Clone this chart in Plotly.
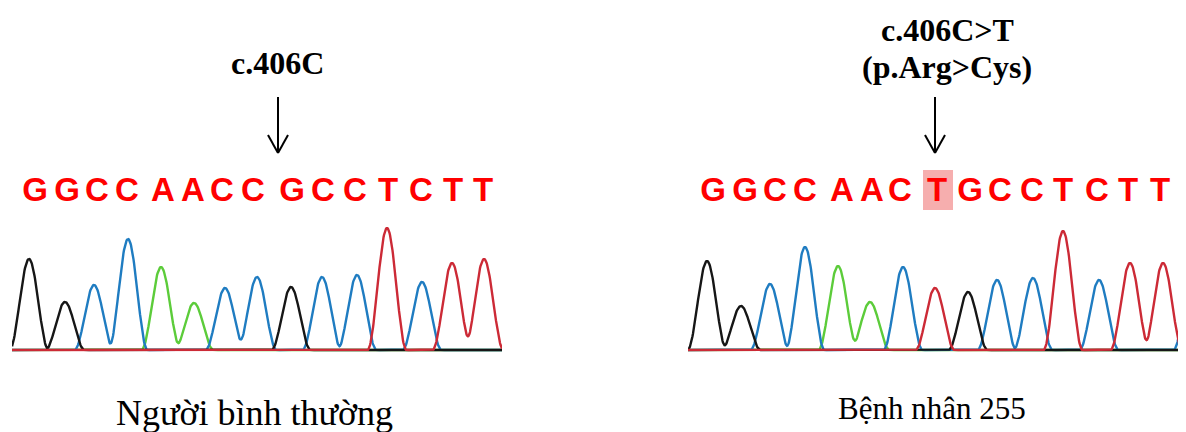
import numpy as np
import plotly.graph_objects as go

# ---------------- data ----------------
bases = "GGCCAACCGCCTCTT"
bases_mut = "GGCCAACTGCCTCTT"
base_color = {"G": "#161616", "C": "#1f7cc1", "A": "#5ccc3a", "T": "#cc2a36"}

# normal sample: peak scan positions & heights (intensity units)
norm_pos = [17, 53, 82, 116, 149, 182, 213, 245, 279, 310, 345, 375, 410, 440, 472]
norm_h = [91, 48, 65, 111, 83, 47, 62, 73, 63, 73, 75, 122, 68, 87, 91]
norm_letter_pos = [23, 55, 85, 115, 151, 181, 210, 241, 280, 311, 343, 376, 409, 441, 471]

# patient 255
mut_pos = [19, 53, 82, 117, 150, 182, 215, 247, 280, 309, 345, 375, 411, 442, 475, 505]
mut_h = [89, 44, 66, 103, 84, 48, 83, 62, 58, 70, 72, 119, 70, 87, 87, 80]
mut_calls = bases_mut + "C"
mut_letter_pos = [25, 57, 87, 117, 154, 184, 212, 249, 282, 312, 344, 375, 409, 440, 472]

half_width = 19.5  # peak half base width (scan units)
left_range = [0, 490]
right_range = [0, 494]

# page body has an 8px margin: figure drawn at (8,8)
OFF = 8
W, H = 1186 - OFF, 432 - OFF


def px(p):
    return (p - OFF) / W


def py(p):
    return 1 - (p - OFF) / H


fig = go.Figure()


def peak_shape(d):
    d = np.abs(d)
    return np.where(d < half_width, np.cos(np.pi * d / (2 * half_width)) ** 2, 0.0)


def traces(pos, h, calls, xr, xa, ya):
    xs = np.arange(xr[0], xr[1] + 0.5, 0.5)
    for b in ["A", "C", "G", "T"]:
        ys = np.zeros_like(xs)
        for p, hh, c in zip(pos, h, calls):
            if c == b:
                ys += hh * peak_shape(xs - p)
        fig.add_trace(go.Scatter(x=xs, y=ys, mode="lines", xaxis=xa, yaxis=ya,
                                 line=dict(color=base_color[b], width=2.4),
                                 hoverinfo="skip", showlegend=False))


traces(norm_pos, norm_h, bases, left_range, "x", "y")
traces(mut_pos, mut_h, mut_calls, right_range, "x2", "y2")

# highlight behind mutated T
fig.add_shape(type="rect", xref="x2", yref="y2", x0=235, x1=265, y0=140, y1=180,
              fillcolor="rgba(245,160,160,0.85)", line=dict(width=0), layer="below")

letter_font = dict(family="Liberation Sans", size=33, color="#ff0000", weight="bold")
fig.add_trace(go.Scatter(x=norm_letter_pos, y=[157] * len(bases), text=list(bases),
                         mode="text", textfont=letter_font, xaxis="x", yaxis="y",
                         hoverinfo="skip", showlegend=False))
fig.add_trace(go.Scatter(x=mut_letter_pos, y=[157] * len(bases_mut), text=list(bases_mut),
                         mode="text", textfont=letter_font, xaxis="x2", yaxis="y2",
                         hoverinfo="skip", showlegend=False))


def arrow(xref, xpos):
    fig.add_shape(type="line", xref=xref, yref="paper", x0=xpos, x1=xpos, y0=py(97), y1=py(153),
                  line=dict(color="black", width=2))
    for s in (-1, 1):
        fig.add_shape(type="line", xref=xref, yref="paper", x0=xpos + s * 10, x1=xpos,
                      y0=py(135), y1=py(153), line=dict(color="black", width=2))


arrow("x", 266)
arrow("x2", 247)

serif_b = dict(family="Liberation Serif", size=32, color="black")
fig.add_annotation(text="<b>c.406C</b>", x=px(277), y=py(63), xref="paper", yref="paper",
                   showarrow=False, font=serif_b, xanchor="center", yanchor="middle")
fig.add_annotation(text="<b>c.406C&gt;T</b>", x=px(947), y=py(30), xref="paper", yref="paper",
                   showarrow=False, font=serif_b, xanchor="center", yanchor="middle")
fig.add_annotation(text="<b>(p.Arg&gt;Cys)</b>", x=px(947), y=py(67), xref="paper", yref="paper",
                   showarrow=False, font=serif_b, xanchor="center", yanchor="middle")
fig.add_annotation(text="Người bình thường", x=px(254), y=py(413), xref="paper", yref="paper",
                   showarrow=False, font=dict(family="Liberation Serif", size=36, color="black"),
                   xanchor="center", yanchor="middle")
fig.add_annotation(text="Bệnh nhân 255", x=px(932), y=py(408), xref="paper", yref="paper",
                   showarrow=False, font=dict(family="Liberation Serif", size=31, color="black"),
                   xanchor="center", yanchor="middle")

ax = dict(showgrid=False, zeroline=False, showticklabels=False, ticks="", showline=False)
ydom = [py(355), py(160)]
fig.update_layout(
    width=W, height=H, margin=dict(l=0, r=0, t=0, b=0),
    paper_bgcolor="white", plot_bgcolor="white",
    xaxis=dict(domain=[px(12), px(502)], range=left_range, **ax),
    yaxis=dict(domain=ydom, range=[-5, 190], **ax),
    xaxis2=dict(domain=[px(688), px(1182)], range=right_range, anchor="y2", **ax),
    yaxis2=dict(domain=ydom, range=[-5, 190], anchor="x2", **ax),
)

fig.write_html("out.html")
